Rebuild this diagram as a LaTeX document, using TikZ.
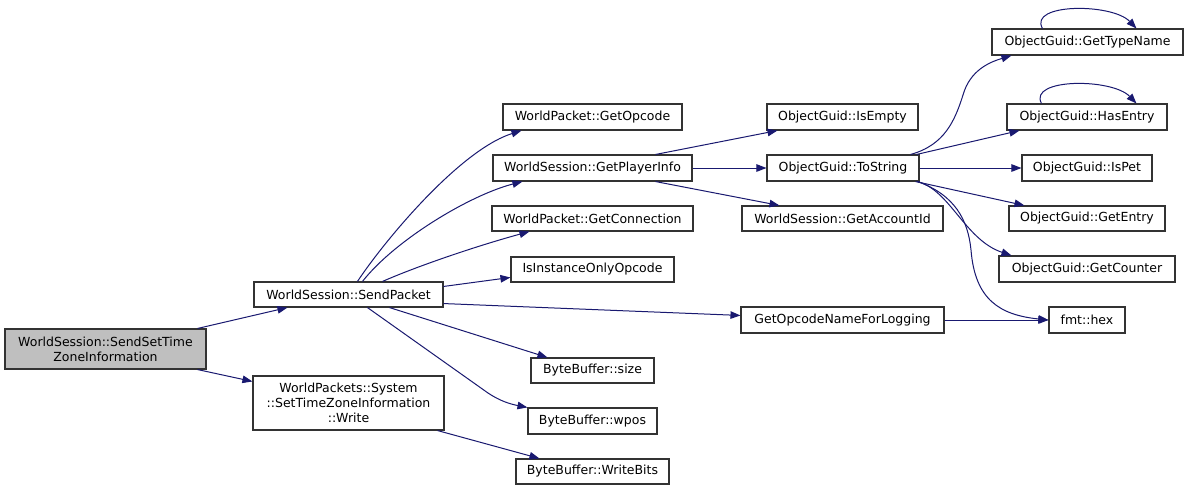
\documentclass[tikz,border=0pt]{standalone}
\usepackage{fontspec}
\setmainfont{DejaVu Sans}
\usetikzlibrary{arrows.meta}
\definecolor{edgec}{HTML}{191970}
\definecolor{mainfill}{HTML}{BFBFBF}
\begin{document}
\begin{tikzpicture}[x=1pt,y=-1pt,
  box/.style={draw=black!80, line width=1.1pt, fill=white, inner sep=0pt, align=center,
    font=\fontsize{12.5}{15}\selectfont},
  edge/.style={draw=edgec, line width=1pt, -{Triangle[length=10pt,width=7.5pt]}, shorten >=0pt}]
\useasboundingbox[fill=white] (0,0) rectangle (1188,491);
% nodes
\node[box, fill=mainfill, minimum width=201pt, minimum height=40pt] (main) at (105.5,349) {WorldSession::SendSetTime\\ZoneInformation};
\node[box, minimum width=189pt, minimum height=25pt] (sp) at (348.5,294.5) {WorldSession::SendPacket};
\node[box, minimum width=191pt, minimum height=54pt] (wr) at (348.5,403) {WorldPackets::System\\::SetTimeZoneInformation\\::Write};
\node[box, minimum width=179pt, minimum height=26pt] (gop) at (592.5,117) {WorldPacket::GetOpcode};
\node[box, minimum width=199pt, minimum height=26pt] (gpi) at (592.5,168) {WorldSession::GetPlayerInfo};
\node[box, minimum width=201pt, minimum height=25pt] (gcon) at (592.5,218.5) {WorldPacket::GetConnection};
\node[box, minimum width=163pt, minimum height=25pt] (iio) at (592.5,269.5) {IsInstanceOnlyOpcode};
\node[box, minimum width=123pt, minimum height=25pt] (bsize) at (592.5,370.5) {ByteBuffer::size};
\node[box, minimum width=129pt, minimum height=26pt] (bwpos) at (592.5,421) {ByteBuffer::wpos};
\node[box, minimum width=153pt, minimum height=25pt] (bwb) at (592.5,471.5) {ByteBuffer::WriteBits};
\node[box, minimum width=151pt, minimum height=26pt] (ise) at (842.5,117) {ObjectGuid::IsEmpty};
\node[box, minimum width=152pt, minimum height=26pt] (tos) at (843,168) {ObjectGuid::ToString};
\node[box, minimum width=201pt, minimum height=25pt] (gaid) at (842.5,218.5) {WorldSession::GetAccountId};
\node[box, minimum width=203pt, minimum height=26pt] (gonl) at (842.5,320) {GetOpcodeNameForLogging};
\node[box, minimum width=191pt, minimum height=26pt] (gtn) at (1087.5,42) {ObjectGuid::GetTypeName};
\node[box, minimum width=160pt, minimum height=26pt] (hen) at (1087,117) {ObjectGuid::HasEntry};
\node[box, minimum width=130pt, minimum height=26pt] (ipet) at (1087,168) {ObjectGuid::IsPet};
\node[box, minimum width=156pt, minimum height=25pt] (gen) at (1087,218.5) {ObjectGuid::GetEntry};
\node[box, minimum width=176pt, minimum height=26pt] (gcnt) at (1087,269) {ObjectGuid::GetCounter};
\node[box, minimum width=76pt, minimum height=26pt] (hex) at (1087,320) {fmt::hex};
% edges
\draw[edge] ([xshift=-9pt]main.north east) -- ([xshift=34pt]sp.south west);
\draw[edge] ([xshift=-9pt]main.south east) -- ([yshift=-6pt]wr.north west);
\draw[edge] ([xshift=104pt]sp.north west) .. controls (385,240) and (460,150) .. ([xshift=19pt]gop.south west);
\draw[edge] ([xshift=109pt]sp.north west) .. controls (395,240) and (470,195) .. ([xshift=30pt]gpi.south west);
\draw[edge] ([xshift=129pt]sp.north west) .. controls (420,265) and (480,245) .. ([xshift=38pt]gcon.south west);
\draw[edge] ([yshift=-5pt]sp.north east) -- ([yshift=-21pt]iio.north west);
\draw[edge] ([yshift=4pt]sp.south east) -- ([yshift=-9pt]gonl.north west);
\draw[edge] ([xshift=136pt]sp.south west) -- ([xshift=17pt]bsize.north west);
\draw[edge] ([xshift=114pt]sp.south west) -- (488,393) .. controls (500,401) and (510,404) .. ([yshift=0pt]bwpos.north west);
\draw[edge] ([xshift=-7pt]wr.south east) -- ([xshift=24pt]bwb.north west);
\draw[edge] ([xshift=-37pt]gpi.north east) -- ([xshift=11pt]ise.south west);
\draw[edge] (gpi.east) -- (tos.west);
\draw[edge] ([xshift=-37pt]gpi.south east) -- ([xshift=38pt]gaid.north west);
\draw[edge] ([xshift=-9pt]tos.north east) .. controls (945,145) and (955,120) .. (963,95) .. controls (970,70) and (990,62) .. ([xshift=20pt]gtn.south west);
\draw[edge] ([xshift=-3pt]tos.north east) -- ([xshift=13pt]hen.south west);
\draw[edge] (tos.east) -- (ipet.west);
\draw[edge] ([xshift=-4pt]tos.south east) -- ([xshift=16pt]gen.north west);
\draw[edge] ([xshift=-2pt]tos.south east) .. controls (950,190) and (965,240) .. ([xshift=13pt]gcnt.north west);
\draw[edge] ([xshift=-2pt]tos.south east) .. controls (955,195) and (968,220) .. (971,250) .. controls (975,300) and (1000,315) .. (hex.west);
\draw[edge] (gonl.east) -- (hex.west);
\draw[edge] ([xshift=51pt]gtn.north west) .. controls (1028,3) and (1112,3) .. ([xshift=145pt]gtn.north west);
\draw[edge] ([xshift=35pt]hen.north west) .. controls (1028,78) and (1112,78) .. ([xshift=130pt]hen.north west);
\end{tikzpicture}
\end{document}
